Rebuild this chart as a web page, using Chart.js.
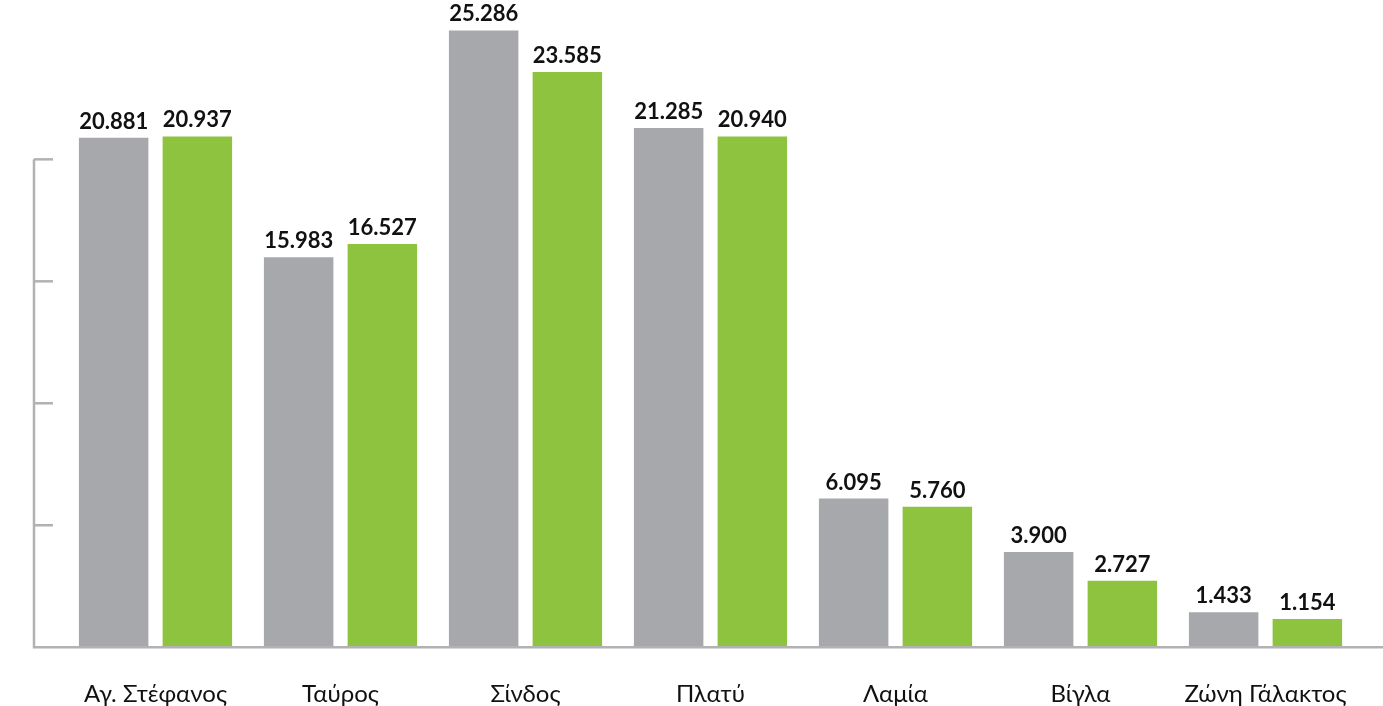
<!DOCTYPE html>
<html lang="el">
<head>
    <meta charset="UTF-8">
    <script src="https://cdn.jsdelivr.net/npm/chart.js"></script>
    <title>Chart</title>
    <style>
        html, body { margin: 0; padding: 0; background: #fff; }
        #wrap { width: 1383px; height: 706px; }
    </style>
</head>
<body>
<div id="wrap"><canvas id="myChart" width="1383" height="706"></canvas></div>
<script>
    const areas = ['Αγ. Στέφανος', 'Ταύρος', 'Σίνδος', 'Πλατύ', 'Λαμία', 'Βίγλα', 'Ζώνη Γάλακτος'];
    const series1 = [20881, 15983, 25286, 21285, 6095, 3900, 1433];
    const series2 = [20937, 16527, 23585, 20940, 5760, 2727, 1154];
    const yTicks = [0, 5000, 10000, 15000, 20000];

    const axisColor = '#b2b2b5';

    // axis line + inward tick marks, and the value labels over the bars
    const decor = {
      id: 'decor',
      afterDatasetsDraw(chart) {
        const ctx = chart.ctx;
        const y = chart.scales.y;
        const ax = 34;
        ctx.save();
        ctx.strokeStyle = axisColor;
        ctx.lineWidth = 2.5;
        ctx.beginPath();
        ctx.moveTo(ax, y.getPixelForValue(yTicks[yTicks.length - 1]));
        ctx.lineTo(ax, y.getPixelForValue(0));
        ctx.lineTo(chart.width, y.getPixelForValue(0));
        ctx.stroke();
        yTicks.slice(1).forEach(v => {
          const py = y.getPixelForValue(v);
          ctx.beginPath();
          ctx.moveTo(ax, py);
          ctx.lineTo(ax + 19, py);
          ctx.stroke();
        });

        ctx.fillStyle = '#111';
        ctx.font = 'bold 22px Lato';
        ctx.textAlign = 'center';
        ctx.textBaseline = 'alphabetic';
        chart.data.datasets.forEach((ds, i) => {
          chart.getDatasetMeta(i).data.forEach((bar, j) => {
            ctx.fillText(ds.data[j].toLocaleString('el-GR'), bar.x, bar.y - 9);
          });
        });
        ctx.restore();
      }
    };

    const ctx = document.getElementById('myChart').getContext('2d');
    new Chart(ctx, {
      type: 'bar',
      data: {
        labels: areas,
        datasets: [{
          data: series1,
          backgroundColor: '#a7a8ab',
          categoryPercentage: 0.905,
          barPercentage: 0.83
        },
        {
          data: series2,
          backgroundColor: '#8dc33f',
          categoryPercentage: 0.905,
          barPercentage: 0.83
        }]
      },
      options: {
        responsive: false,
        animation: false,
        layout: { padding: { left: 63, right: 25, top: 13, bottom: -28 } },
        plugins: { legend: { display: false }, tooltip: { enabled: false } },
        scales: {
          x: {
            grid: { display: false },
            border: { display: false },
            ticks: { color: '#111', font: { family: 'Lato', size: 24 }, padding: 25, maxRotation: 0 }
          },
          y: {
            display: false,
            min: 0,
            max: 26000
          }
        }
      },
      plugins: [decor]
    });
</script>
</body>
</html>
